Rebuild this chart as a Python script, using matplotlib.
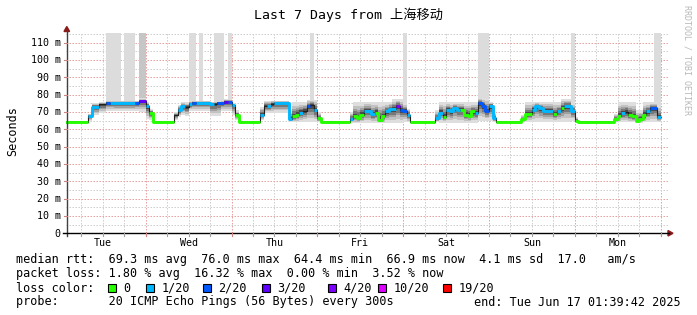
import numpy as np
import matplotlib.pyplot as plt
from matplotlib.patches import Rectangle, Polygon
from matplotlib.lines import Line2D

# hourly samples, hour 0 = Tue Jun 10 00:00 (ms)
median = ([64.5] * 8 + [67.5, 73.0, 73.0, 74.4, 74.4, 75.4, 75.2, 75.0,
                        75.0, 75.0, 75.0, 75.0, 75.0, 75.4, 76.2, 76.2] +
          [73.5, 69.3] + [64.5] * 6 + [68.0, 71.0, 73.5, 72.8, 74.5, 75.4, 75.4, 75.4,
                                       75.4, 75.4, 74.7, 74.7, 75.4, 75.4, 76.0, 76.0] +
          [73.9, 68.0] + [64.5] * 6 + [68.3, 73.5, 73.5, 74.7, 75.0, 75.0, 75.0, 75.0,
                                       65.8, 67.4, 68.3, 69.7, 70.7, 73.5, 74.0, 71.2] +
          [66.4] + [64.5] * 8 + [65.8, 67.4, 66.4, 68.3, 70.8, 70.8, 68.8,
                                 69.7, 65.4, 67.4, 70.3, 71.6, 71.6, 73.5, 71.0] +
          [70.8, 68.3] + [64.5] * 7 + [66.4, 69.7, 67.0, 71.2, 70.3, 72.5, 71.2,
                                       71.2, 68.3, 67.8, 70.3, 69.5, 75.4, 73.5, 70.3] +
          [73.5, 66.4] + [64.5] * 7 + [65.8, 68.8, 68.8, 71.2, 73.5, 72.2, 70.8,
                                       70.8, 70.8, 68.8, 70.3, 72.2, 73.5, 73.5, 70.3] +
          [65.0] + [64.5] * 10 + [65.8, 67.8, 69.3, 70.0, 68.3,
                                  67.4, 65.0, 65.8, 68.3, 70.3, 72.2, 72.5, 66.9])

# loss bucket per hour (-1 = no colour, only the thin median line)
loss = ([0] * 8 + [1, 1, 1, -1, -1, 2, 1, 1, 1, 1, 1, 1, 1, 2, 3, 3] +
        [1, 0] + [0] * 6 + [-1, 1, 1, -1, 1, 2, 1, 1, 1, 1, 1, -1, 2, 2, 3, 2] +
        [1, 0] + [0] * 6 + [1, -1, 1, -1, 1, 1, 1, 1, 1, 0, 0, 1, -1, 2, -1, 1] +
        [0] + [0] * 8 + [1, 0, 0, 0, 1, 1, 1, 0, 0, 0, 1, 1, 1, 4, 2] +
        [2, 1] + [0] * 7 + [1, 1, 0, 1, 1, 1, 1, 0, 0, 0, 0, 1, 2, 2, 2] +
        [1, 1] + [0] * 7 + [0, 0, 0, 1, 1, 1, 1, 1, 1, 0, 1, 0, 1, 1, 1] +
        [0] + [0] * 10 + [0, 0, 1, -1, 0, 0, 0, 0, 0, 1, 2, 2, 1])

smoke_lo = ([64.3] * 8 + [65.0, 68.0, 68.0, 69.5, 69.5] + [70.5] * 9 + [70.0, 70.0] +
            [66.0, 65.5] + [64.3] * 6 + [65.5, 67.0, 68.0, 67.5] + [70.5] * 6 +
            [67.5, 67.5, 67.5, 70.5, 70.5, 70.5] +
            [68.0, 65.5] + [64.3] * 6 + [65.5] + [69.5] * 7 + [64.5] + [64.0] * 7 +
            [64.0] + [64.3] * 8 + [63.5] * 15 +
            [64.0, 64.0] + [64.3] * 7 + [64.0] + [63.8] * 11 + [65.0] * 3 +
            [65.0, 64.0] + [64.3] * 7 + [64.0] + [64.5] * 13 + [65.0] +
            [64.3] * 11 + [64.0] * 6 + [63.8, 63.8] + [64.0] * 5)

smoke_hi = ([64.8] * 8 + [69.0, 75.0, 75.0, 75.5, 75.5] + [76.5] * 9 + [78.0, 78.0] +
            [76.0, 72.0] + [64.8] * 6 + [70.0, 74.0, 75.5, 75.5] + [76.5] * 6 +
            [76.0, 76.0, 76.0, 76.5, 77.5, 77.5] +
            [75.0, 71.0] + [64.8] * 6 + [73.0] + [76.5] * 7 + [71.0] + [75.5] * 4 + [77.0] * 3 +
            [70.0] + [64.8] * 8 + [70.0] + [75.5] * 11 + [77.5] * 3 +
            [75.0, 72.0] + [64.8] * 7 + [71.0] + [75.5] * 11 + [78.0] * 3 +
            [76.0, 70.0] + [64.8] * 7 + [68.0] + [75.5] * 10 + [77.5] * 3 + [75.0] +
            [67.0] + [64.8] * 10 + [69.0] + [75.5] * 5 + [71.0, 71.0] + [75.5] * 4 + [74.0])

# hours where single pings went off the top of the chart
spike_start = [13, 18, 36, 39, 43, 47, 70, 96, 117, 143, 166]
spike_end = [17, 21, 38, 40, 46, 48, 71, 97, 120, 144, 168]
dark_spike_start = [22]
dark_spike_end = [24]

day_labels = ['Tue', 'Wed', 'Thu', 'Fri', 'Sat', 'Sun', 'Mon']
ytick_values = list(range(0, 111, 10))
loss_labels = ['0', '1/20', '2/20', '3/20', '4/20', '10/20', '19/20']
loss_colors = ['#26ff00', '#00b8ff', '#0059ff', '#5e00ff', '#7e00ff', '#dd00ff', '#ff0000']

line_rtt = 'median rtt:  69.3 ms avg  76.0 ms max  64.4 ms min  66.9 ms now  4.1 ms sd  17.0   am/s'
line_loss = 'packet loss: 1.80 % avg  16.32 % max  0.00 % min  3.52 % now'
line_probe = 'probe:       20 ICMP Echo Pings (56 Bytes) every 300s'
line_end = 'end: Tue Jun 17 01:39:42 2025'

MONO = 'DejaVu Sans Mono'
W, H = 697, 315
fig = plt.figure(figsize=(W / 100, H / 100), dpi=100)
fig.patch.set_facecolor('white')


def fx(x):
    return x / W


def fy(y):
    return 1 - y / H


def ftext(x, y, s, **kw):
    kw.setdefault('family', MONO)
    kw.setdefault('color', '#000000')
    fig.text(fx(x), fy(y), s, **kw)


# plot area in pixels
x_left, x_right = 65.8, 666.6
y_top, y_bot = 33.3, 233.3
h0, h1 = 1.66, 169.66
ymax = 115.4
ax = fig.add_axes([fx(x_left), fy(y_bot), (x_right - x_left) / W, (y_bot - y_top) / H])
ax.set_xlim(h0, h1)
ax.set_ylim(0, ymax)
ax.axis('off')


def hx_px(h):
    return x_left + (h - h0) / (h1 - h0) * (x_right - x_left)


def ms_px(v):
    return y_bot - v / ymax * (y_bot - y_top)


# grid
MAJ = '#e8a2a2'
MIN = '#cfcfcf'
for h in range(6, 170, 6):
    ax.axvline(h, color=MAJ if h % 24 == 0 else MIN, lw=0.72, dashes=(1.5, 1.5), zorder=0)
for v in range(5, 116, 5):
    ax.plot([h0, h1 + 0.4], [v, v], color=MAJ if v % 10 == 0 else MIN, lw=0.72,
            dashes=(1.5, 1.5), zorder=0, clip_on=False)

hx = np.arange(len(median) + 1)
med = np.array(median + [median[-1]])
lo = np.array(smoke_lo + [smoke_lo[-1]])
hi = np.array(smoke_hi + [smoke_hi[-1]])
lossa = np.array(loss + [loss[-1]])

# off-scale pings
for s, e in zip(spike_start, spike_end):
    ax.fill_between(hx[s:e + 1], med[s:e + 1], ymax, step='post', color='#dcdcdc', lw=0, zorder=1)
for s, e in zip(dark_spike_start, dark_spike_end):
    ax.fill_between(hx[s:e + 1], med[s:e + 1], ymax, step='post', color='#c6c6c6', lw=0, zorder=1)

# smoke
for f, c in [(1.0, '#dedede'), (0.75, '#c2c2c2'), (0.55, '#a0a0a0'), (0.38, '#787878'), (0.2, '#4a4a4a')]:
    ax.fill_between(hx, med - f * (med - lo), med + f * (hi - med), step='post',
                    color=c, lw=0, zorder=2)

# median line, coloured by loss
ax.step(hx, med, where='post', color='#202020', lw=0.8, zorder=3)
for k, c in enumerate(loss_colors):
    m = np.where(lossa == k, med, np.nan)
    ax.step(hx, m, where='post', color=c, lw=2.1, zorder=4, solid_capstyle='butt')

# axes lines, ticks and arrows
fig.add_artist(Line2D([fx(66.8), fx(66.8)], [fy(236), fy(31)], color='#404040', lw=1))
fig.add_artist(Line2D([fx(63), fx(669)], [fy(y_bot), fy(y_bot)], color='#000000', lw=1))
for h in range(6, 169, 6):
    xp = hx_px(h)
    fig.add_artist(Line2D([fx(xp), fx(xp)], [fy(y_bot), fy(y_bot + 2.5)],
                          color='#d08080' if h % 24 == 0 else '#a0a0a0', lw=0.8))
for v in ytick_values[1:]:
    yp = ms_px(v)
    fig.add_artist(Line2D([fx(64), fx(66.8)], [fy(yp), fy(yp)], color='#d08080', lw=0.8))
fig.add_artist(Polygon([(fx(668), fy(230.5)), (fx(668), fy(236)), (fx(673), fy(y_bot))],
                       closed=True, color='#8b1a1a', transform=fig.transFigure))
fig.add_artist(Polygon([(fx(64), fy(31.5)), (fx(69.6), fy(31.5)), (fx(66.8), fy(26.5))],
                       closed=True, color='#8b1a1a', transform=fig.transFigure))

# tick labels
for v in ytick_values:
    ftext(60.5, ms_px(v) + 3.5, '0' if v == 0 else f'{v} m', size=7.2, ha='right', va='baseline')
for i, d in enumerate(day_labels):
    ftext(hx_px(12 + 24 * i), 246, d, size=7.2, ha='center', va='baseline')

# titles
ftext(348, 19, 'Last 7 Days from 上海移动', size=9.5, ha='center', va='baseline',
      family=[MONO, 'Noto Sans CJK SC'])
ftext(12.5, 131.5, 'Seconds', size=8.5, rotation=90, ha='center', va='center')
ftext(687, 60, 'RRDTOOL / TOBI OETIKER', size=6.0, rotation=270, ha='center', va='center',
      color='#b8b8b8')

# legend
ftext(16, 263.5, line_rtt, size=8.5, va='baseline')
ftext(16, 277, line_loss, size=8.5, va='baseline')
ftext(16, 291.5, 'loss color:', size=8.5, va='baseline')
ftext(16, 305.5, line_probe, size=8.5, va='baseline')
ftext(681, 305.5, line_end, size=8.5, va='baseline', ha='right')
square_x = [108, 146, 203, 262, 328, 378, 443]
for xs, lab, c in zip(square_x, loss_labels, loss_colors):
    fig.add_artist(Rectangle((fx(xs), fy(292)), 8 / W, 8 / H, transform=fig.transFigure,
                             facecolor=c, edgecolor='black', lw=0.8))
    ftext(xs + 15.5, 291.5, lab, size=8.5, va='baseline')

fig.savefig('out.png', dpi=100, facecolor='white')
